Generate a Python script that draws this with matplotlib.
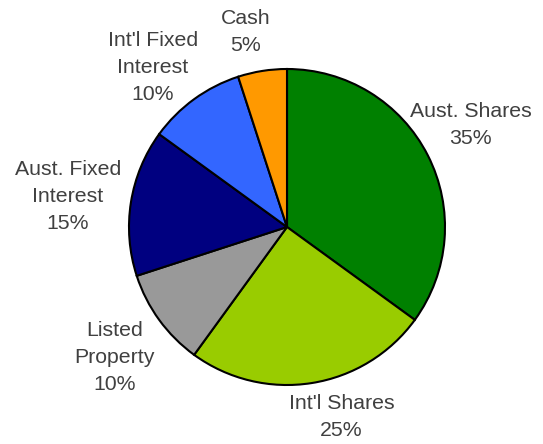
import matplotlib
matplotlib.use("Agg")
import matplotlib.pyplot as plt
import numpy as np

categories = ["Aust. Shares", "Int'l Shares", "Listed\nProperty", "Aust. Fixed\nInterest", "Int'l Fixed\nInterest", "Cash"]
values = [35, 25, 10, 15, 10, 5]
colors = ["#008000", "#99CC00", "#999999", "#000080", "#3366FF", "#FF9900"]
# label placement styling (radius factor, angle offset in degrees)
label_radius = [1.33, 1.25, 1.37, 1.40, 1.32, 1.26]
label_angle_off = [2, 7, 1, 1, 4, 3]

W, H, dpi = 543, 444, 100
fig = plt.figure(figsize=(W / dpi, H / dpi), dpi=dpi)
ax = fig.add_axes([0, 0, 1, 1])

cx, cy, R = 287, 227, 158
wedges, _ = ax.pie(values, colors=colors, startangle=90, counterclock=False,
                   wedgeprops=dict(edgecolor="black", linewidth=1.5))

total = sum(values)
for w, cat, v, rf, da in zip(wedges, categories, values, label_radius, label_angle_off):
    mid = np.deg2rad((w.theta1 + w.theta2) / 2 + da)
    ax.text(rf * np.cos(mid), rf * np.sin(mid), f"{cat}\n{v / total * 100:.0f}%",
            ha="center", va="center", fontsize=15.3, color="#404040",
            family="Liberation Sans", linespacing=1.52)

ax.set_xlim(-cx / R, (W - cx) / R)
ax.set_ylim(-(H - cy) / R, cy / R)
ax.set_aspect("equal")
ax.axis("off")
fig.savefig("out.png", dpi=dpi)
